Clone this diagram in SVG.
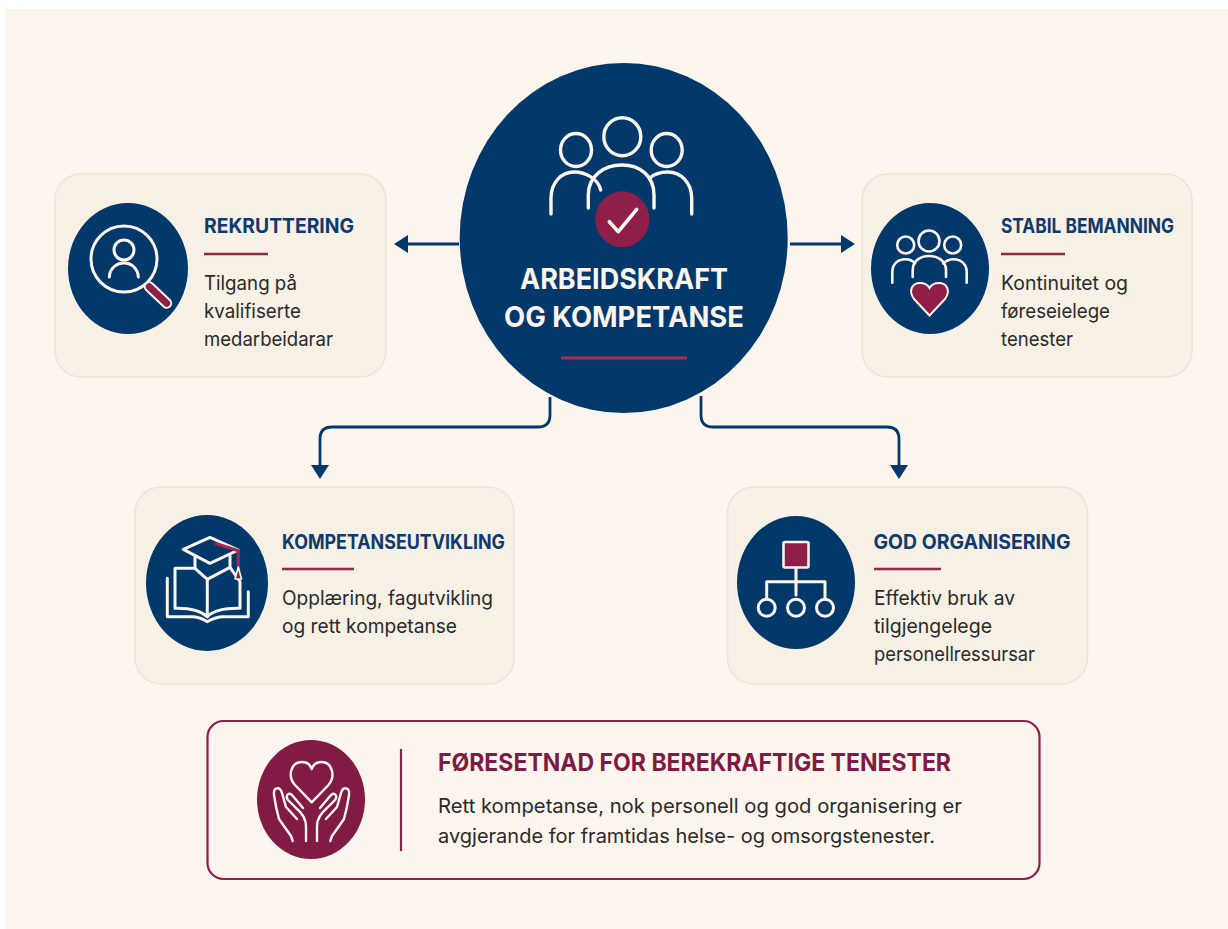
<svg xmlns="http://www.w3.org/2000/svg" width="1228" height="929" viewBox="0 0 1228 929">
<style>
text{font-family:"Inter","Noto Sans","Liberation Sans",sans-serif}
.card{fill:#f6f0e5;stroke:#ece4d4;stroke-width:1.5}
.navy{fill:#03386b}
.title{font-size:20px;font-weight:700;fill:#0f3a6e}
.body{font-size:20px;fill:#2a2a2a}
.rule{stroke:#96264f;stroke-width:2.5;fill:none}
.ln{fill:none;stroke:#fbf5ee;stroke-width:3;stroke-linecap:round;stroke-linejoin:round}
.cr{fill:#8f1f48}
.conn{fill:none;stroke:#03386b;stroke-width:2.8}
</style>
<defs>
<marker id="arrow" markerUnits="userSpaceOnUse" markerWidth="18" markerHeight="20" refX="1" refY="10" orient="auto"><path d="M0 1L14 10L0 19z" fill="#03386b"/></marker>
</defs>
<rect width="1228" height="929" fill="#ffffff"/>
<rect x="6" y="9" width="1222" height="920" fill="#fbf5ee"/>
<g id="connectors">
<path class="conn" marker-end="url(#arrow)" d="M459 244H407"/>
<path class="conn" marker-end="url(#arrow)" d="M790 244H842"/>
<path class="conn" marker-end="url(#arrow)" d="M550 397V415Q550 427 538 427H332Q320 427 320 439V466"/>
<path class="conn" marker-end="url(#arrow)" d="M701 396V415Q701 427 713 427H887Q899 427 899 439V466"/>
</g>
<g id="center">
<ellipse class="navy" cx="623.7" cy="238" rx="164" ry="175"/>
<g class="ln" style="stroke-width:3.4">
<ellipse cx="622.3" cy="136.7" rx="18.5" ry="19"/>
<ellipse cx="576" cy="150" rx="15.5" ry="16.5"/>
<ellipse cx="666.7" cy="150" rx="15.5" ry="16.5"/>
<path d="M588.3 208V195C588.3 176 604 165 622 165C640 165 654 176 654 195V208"/>
<path d="M551 214V198C551 183 561 172 574 172C586 172 598 179 600.7 190"/>
<path d="M691.7 214V198C691.7 183 681 172 668 172C660 172 654 174 650 178"/>
</g>
<ellipse class="cr" cx="622.3" cy="219.3" rx="27" ry="28"/>
<path class="ln" style="stroke-width:3.6" d="M609.3 221.7L618.3 231.7L636.7 209.3"/>
<text x="624" y="289" text-anchor="middle" font-size="29" font-weight="700" fill="#fbf5ee" textLength="208" lengthAdjust="spacingAndGlyphs">ARBEIDSKRAFT</text>
<text x="624" y="327" text-anchor="middle" font-size="29" font-weight="700" fill="#fbf5ee" textLength="240" lengthAdjust="spacingAndGlyphs">OG KOMPETANSE</text>
<path d="M561 358H687" stroke="#b02a4c" stroke-width="3" fill="none"/>
</g>
<g id="rekruttering">
<rect class="card" x="55" y="174" width="331" height="203" rx="26"/>
<ellipse class="navy" cx="128" cy="268.5" rx="60" ry="65.5"/>
<circle class="ln" cx="124" cy="259" r="33"/>
<circle class="ln" cx="124" cy="250" r="10"/>
<path class="ln" d="M109.3 277C109.500 269 116 263 124 263C132 263 138 269 138.300 277"/>
<path d="M149.3 286.7L166.7 303.3" stroke="#fbf5ee" stroke-width="11" stroke-linecap="round"/>
<path d="M149.3 286.7L166.7 303.3" stroke="#8f1f48" stroke-width="7" stroke-linecap="round"/>
<text class="title" x="204" y="233" textLength="150" lengthAdjust="spacingAndGlyphs">REKRUTTERING</text>
<path class="rule" d="M204 254H268"/>
<text class="body" x="204" y="290" textLength="93" lengthAdjust="spacingAndGlyphs">Tilgang på</text>
<text class="body" x="204" y="318" textLength="97" lengthAdjust="spacingAndGlyphs">kvalifiserte</text>
<text class="body" x="204" y="346" textLength="129" lengthAdjust="spacingAndGlyphs">medarbeidarar</text>
</g>
<g id="stabil-bemanning">
<rect class="card" x="862" y="174" width="330" height="203" rx="26"/>
<ellipse class="navy" cx="930" cy="268.5" rx="59" ry="65.5"/>
<g class="ln" style="stroke-width:2.6">
<circle cx="929" cy="241" r="10.5"/>
<circle cx="905.7" cy="245" r="8.5"/>
<circle cx="952.7" cy="245" r="8.5"/>
<path d="M912.7 277V270C912.7 261 920 256 929 256C938 256 946 261 946 270V277"/>
<path d="M892.3 282.7V272C892.3 264 898 259.3 905 259.3C909 259.3 913 261 915 263.3"/>
<path d="M966.7 282.7V272C966.7 264 961 259.3 953.3 259.3C949 259.3 946 261 943.3 263.3"/>
</g>
<path class="cr" stroke="#fbf5ee" stroke-width="2" d="M929.5 315.5L914 299C908 291 912 283 920 283C924 283 927.5 284.5 929.5 288C931.5 284.5 935 283 939 283C947 283 951 291 945 299z"/>
<text class="title" x="1001" y="233" textLength="173" lengthAdjust="spacingAndGlyphs">STABIL BEMANNING</text>
<path class="rule" d="M1001 254H1065"/>
<text class="body" x="1001" y="290" textLength="127" lengthAdjust="spacingAndGlyphs">Kontinuitet og</text>
<text class="body" x="1001" y="318" textLength="109" lengthAdjust="spacingAndGlyphs">føreseielege</text>
<text class="body" x="1001" y="346" textLength="72" lengthAdjust="spacingAndGlyphs">tenester</text>
</g>
<g id="kompetanseutvikling">
<rect class="card" x="135" y="487" width="379" height="197" rx="26"/>
<ellipse class="navy" cx="207" cy="583" rx="61" ry="68"/>
<g class="ln">
<path d="M183.3 549.3L210 537.3L238.3 550L210 563.3z"/>
<path d="M195 556V568.3L207.3 579.3L230 567.3V556"/>
<path d="M195 568.3H175V608.3C188 608 200 610 207.3 616.7V579.3"/>
<path d="M230 567.3L240 581.7V608.3C226 608 214 610 207.3 616.7"/>
<path d="M167.3 578.3V616.7H193.3C198 617 203 619 207.3 621.7C212 619 217 617 221.7 616.7H248.3V591.7"/>
</g>
<path d="M215 543.3L238.3 550.7V568" fill="none" stroke="#a8274e" stroke-width="3.2"/>
<path d="M238.3 567L241.500 579H235z" fill="#8f1f48" stroke="#fbf5ee" stroke-width="1.6" stroke-linejoin="round"/>
<text class="title" x="282" y="549" textLength="223" lengthAdjust="spacingAndGlyphs">KOMPETANSEUTVIKLING</text>
<path class="rule" d="M282 569H354"/>
<text class="body" x="282" y="605" textLength="211" lengthAdjust="spacingAndGlyphs">Opplæring, fagutvikling</text>
<text class="body" x="282" y="633" textLength="175" lengthAdjust="spacingAndGlyphs">og rett kompetanse</text>
</g>
<g id="god-organisering">
<rect class="card" x="727.5" y="487" width="360" height="197" rx="26"/>
<ellipse class="navy" cx="796" cy="582.5" rx="59" ry="66.5"/>
<rect class="cr" x="783.5" y="542" width="25" height="25.5" rx="1.5" stroke="#fbf5ee" stroke-width="2.6"/>
<path class="ln" d="M796 568V595M766.7 598V581.7H825V598"/>
<g class="ln"><circle cx="766.7" cy="607.7" r="8.5"/><circle cx="796" cy="607.7" r="8.5"/><circle cx="825" cy="607.7" r="8.5"/></g>
<text class="title" x="873.5" y="549" textLength="197" lengthAdjust="spacingAndGlyphs">GOD ORGANISERING</text>
<path class="rule" d="M874 569H941"/>
<text class="body" x="874" y="605" textLength="141" lengthAdjust="spacingAndGlyphs">Effektiv bruk av</text>
<text class="body" x="874" y="633" textLength="118" lengthAdjust="spacingAndGlyphs">tilgjengelege</text>
<text class="body" x="874" y="661" textLength="161" lengthAdjust="spacingAndGlyphs">personellressursar</text>
</g>
<g id="foresetnad">
<rect x="207.5" y="721" width="832" height="158" rx="16" fill="#fbf5ee" stroke="#8a1f47" stroke-width="2.2"/>
<ellipse cx="311" cy="799.500" rx="54" ry="59.5" fill="#811a44"/>
<g class="ln" style="stroke-width:2.4">
<path d="M311.7 802.3L295 785C287 776 291 762 302 762C306 762 310 764 311.7 769C313.4 764 317 762 321.500 762C332 762 336 776 328.500 785z"/>
<path id="hand" d="M292.700 841L291 836L279 819C277 812 275 802 274 795C273 787 280 786 282 793L286 807L297 819M306 841V826C306 818 302 813 296 808L288 800C285 796 288 792 292 795L303 808"/>
<use href="#hand" transform="translate(623 0) scale(-1 1)"/>
</g>
<path d="M401 749V851" stroke="#8a1f47" stroke-width="2.2" fill="none"/>
<text x="438" y="771" font-size="24" font-weight="700" fill="#7f1a44" textLength="513" lengthAdjust="spacingAndGlyphs">FØRESETNAD FOR BEREKRAFTIGE TENESTER</text>
<text class="body" x="438" y="813" textLength="524" lengthAdjust="spacingAndGlyphs">Rett kompetanse, nok personell og god organisering er</text>
<text class="body" x="438" y="843" textLength="497" lengthAdjust="spacingAndGlyphs">avgjerande for framtidas helse- og omsorgstenester.</text>
</g>
</svg>
